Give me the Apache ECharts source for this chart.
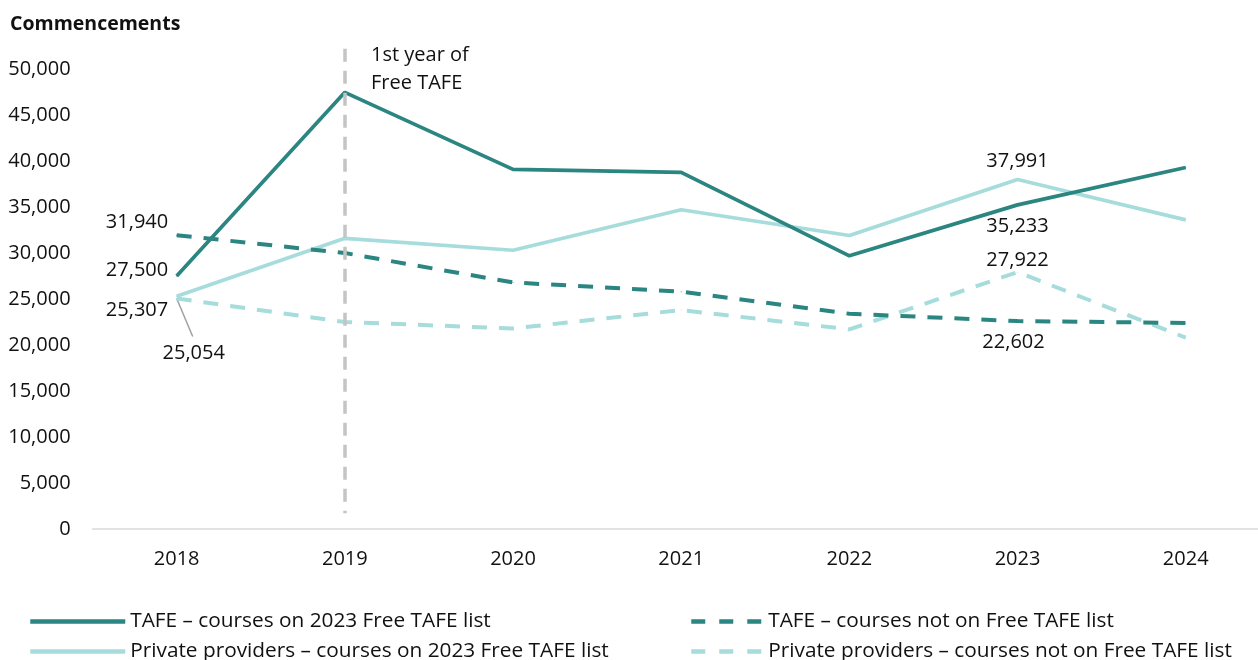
<!DOCTYPE html>
<html><head><meta charset="utf-8">
<script src="https://cdn.jsdelivr.net/npm/echarts@6/dist/echarts.min.js"></script>
<style>html,body{margin:0;padding:0;background:#fff}#c{width:1258px;height:660px}</style>
</head><body><div id="c"></div>
<script>
const years = ['2018','2019','2020','2021','2022','2023','2024'];
const tafeOn = [27500, 47470, 39100, 38770, 29700, 35233, 39300];
const tafeNot = [31940, 30000, 26800, 25800, 23400, 22602, 22400];
const privOn = [25307, 31600, 30300, 34700, 31900, 37991, 33600];
const privNot = [25054, 22500, 21800, 23800, 21700, 27922, 20800];
const seriesNames = [
  'TAFE – courses on 2023 Free TAFE list',
  'TAFE – courses not on Free TAFE list',
  'Private providers – courses on 2023 Free TAFE list',
  'Private providers – courses not on Free TAFE list'
];
const yMin = 0, yLabelMax = 50000, yInterval = 5000;
const yPlotTop = 52200;          // vertical marker reaches above the last labelled tick
const markYear = '2019';
const markSpan = [52200, 1700];
const markText = '1st year of\nFree TAFE';

const DARK = '#2b8581', LIGHT = '#a6dcdc';
const FONT = '"Open Sans", "Noto Sans", sans-serif';
const FS = 20;
const DASH = [15, 12];
const fmt = v => v.toLocaleString('en-US');

function withLabels(arr, cfg) {
  return arr.map((v, i) => cfg[i] ? { value: v, label: Object.assign({ show: true, formatter: fmt(v), color: '#111', fontSize: FS, fontFamily: FONT }, cfg[i]) } : v);
}

function legendFor(name, left, top, dashed) {
  return { left, top, itemWidth: dashed ? 70 : 95, itemHeight: 14, itemGap: 0,
    itemStyle: { opacity: 0 },
    lineStyle: dashed ? { type: [14, 14], width: 4.5 } : { width: 4.5 },
    textStyle: { fontSize: 20.8, fontFamily: FONT, color: '#111', padding: [0, 0, 0, dashed ? 2 : 0] },
    data: [name] };
}

const baseSeries = { type: 'line', symbol: 'circle', symbolSize: 1, showSymbol: true };

const chart = echarts.init(document.getElementById('c'), null, { renderer: 'canvas' });
chart.setOption({
  animation: false,
  title: { text: 'Commencements', left: 5, top: 9, textStyle: { fontFamily: FONT, fontSize: 19.5, fontWeight: 'bold', color: '#111' } },
  grid: { left: 92.6, width: 1177.2, top: 48.8, bottom: 131, containLabel: false, outerBoundsMode: 'none' },
  xAxis: {
    type: 'category', data: years, boundaryGap: true,
    axisLine: { lineStyle: { color: '#d9d9d9', width: 1.5 } },
    axisTick: { show: false },
    axisLabel: { color: '#111', fontSize: FS, fontFamily: FONT, margin: 20 }
  },
  yAxis: {
    type: 'value', min: yMin, max: yPlotTop, interval: yInterval,
    axisLine: { show: false }, axisTick: { show: false }, splitLine: { show: false },
    axisLabel: { color: '#111', fontSize: FS, fontFamily: FONT, margin: 22, showMaxLabel: false,
      formatter: v => (v % yInterval === 0 && v <= yLabelMax) ? fmt(v) : '' }
  },
  legend: [
    legendFor(seriesNames[0], 23, 606, false),
    legendFor(seriesNames[1], 684, 606, true),
    legendFor(seriesNames[2], 23, 636, false),
    legendFor(seriesNames[3], 684, 636, true)
  ],
  series: [
    Object.assign({}, baseSeries, { name: seriesNames[0], data: withLabels(tafeOn, {
        0: { position: 'left', distance: 8, offset: [0, -6] },
        5: { position: 'bottom', distance: 11 } }),
      lineStyle: { color: DARK, width: 3.7 }, itemStyle: { color: DARK }, z: 4,
      markLine: { silent: true, symbol: 'none', label: { show: false },
        lineStyle: { color: '#c4c4c4', width: 3.5, type: [13, 9] },
        data: [[{ coord: [markYear, markSpan[0]] }, { coord: [markYear, markSpan[1]] }]] } }),
    Object.assign({}, baseSeries, { name: seriesNames[1], data: withLabels(tafeNot, {
        0: { position: 'left', distance: 8, offset: [0, -13] },
        5: { position: 'bottom', distance: 11, offset: [-4, 0] } }),
      lineStyle: { color: DARK, width: 4, type: DASH }, itemStyle: { color: DARK }, z: 3 }),
    Object.assign({}, baseSeries, { name: seriesNames[2], data: withLabels(privOn, {
        0: { position: 'left', distance: 8, offset: [0, 14] },
        5: { position: 'top', distance: 8 } }),
      lineStyle: { color: LIGHT, width: 3.7 }, itemStyle: { color: LIGHT }, z: 2 }),
    Object.assign({}, baseSeries, { name: seriesNames[3], data: withLabels(privNot, {
        0: { position: 'bottom', distance: 44, offset: [17, 0] },
        5: { position: 'top', distance: 1 } }),
      lineStyle: { color: LIGHT, width: 4, type: DASH }, itemStyle: { color: LIGHT }, z: 1 })
  ]
});
const p = chart.convertToPixel({ seriesIndex: 3 }, [0, privNot[0]]);
chart.setOption({ graphic: [
  { type: 'text', left: 371, top: 41, style: { text: markText, fontSize: FS, fontFamily: FONT, fill: '#111', lineHeight: 28 } },
  { type: 'line', shape: { x1: p[0], y1: p[1], x2: p[0] + 16, y2: p[1] + 38 }, style: { stroke: '#a0a0a0', lineWidth: 1.5 } }
] });
</script></body></html>
